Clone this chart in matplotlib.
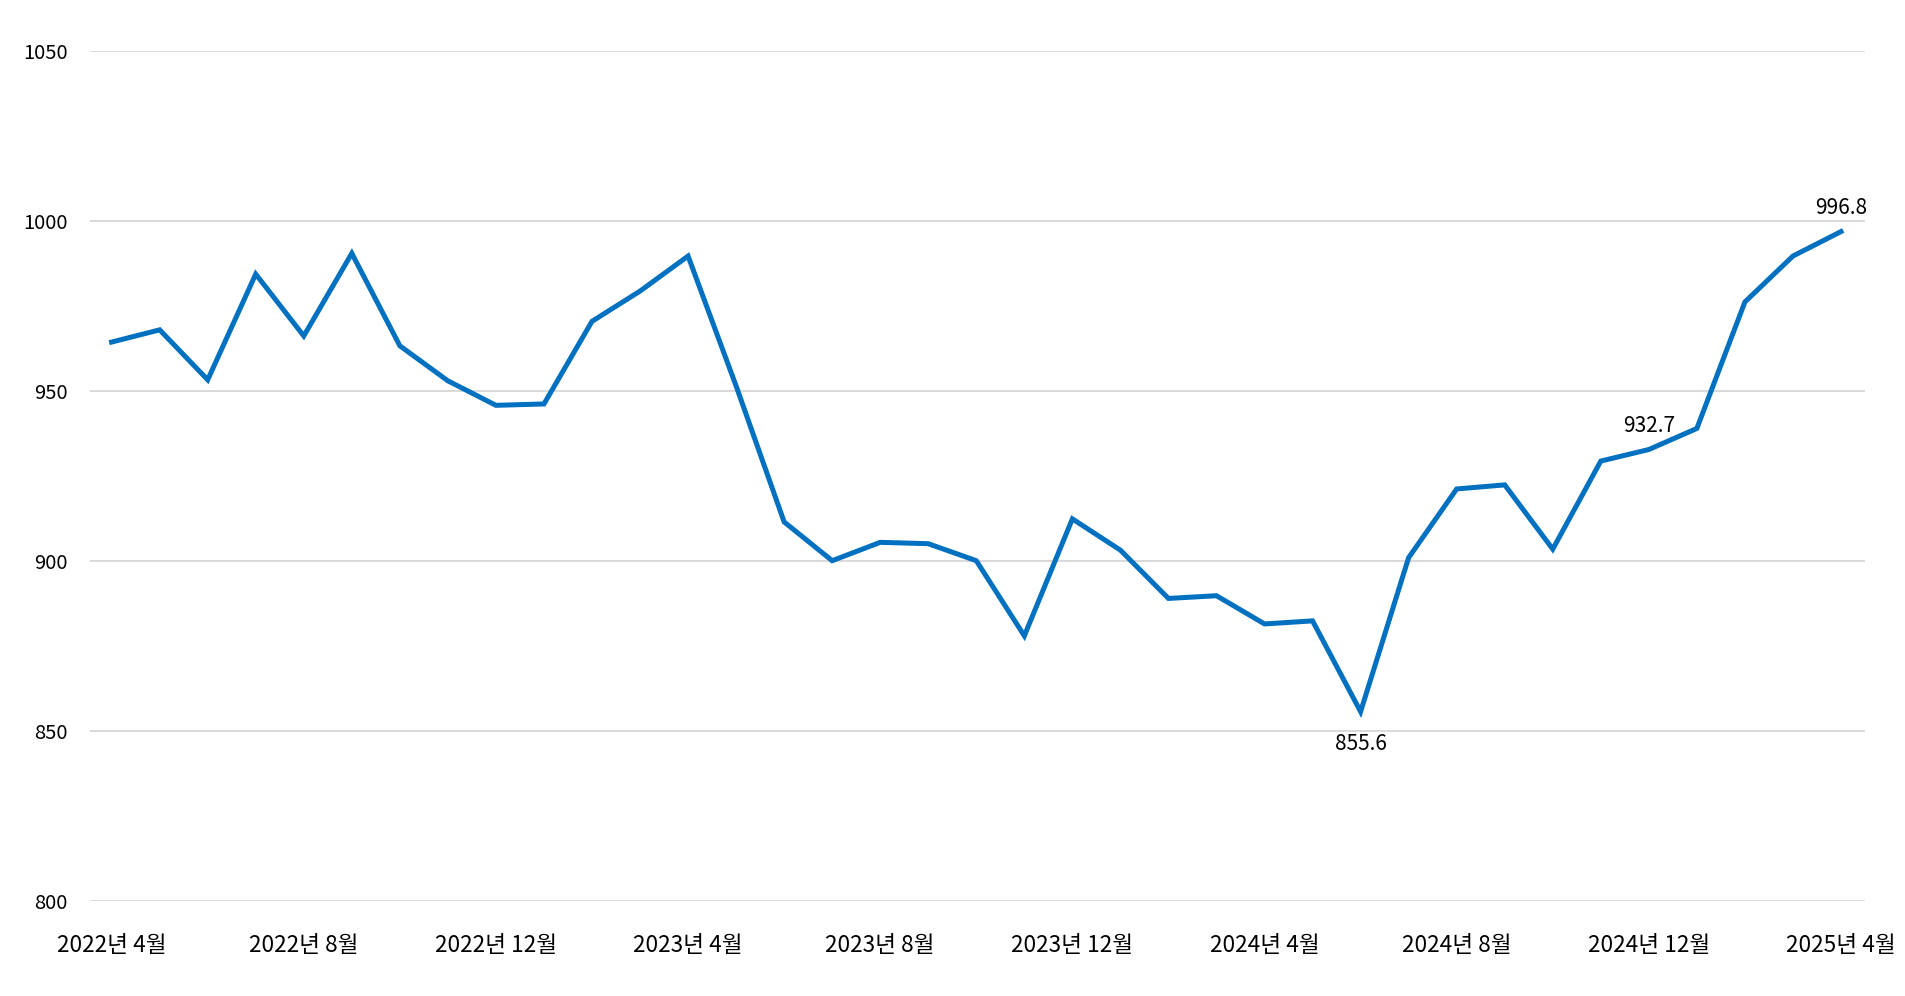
import matplotlib
matplotlib.use("Agg")
import matplotlib.pyplot as plt

# --- 월별 지수 (2022년 4월 ~ 2025년 4월) ---
values = [
    964.3, 967.9, 953.2, 984.3, 966.1, 990.4, 963.2, 952.9, 945.7, 946.1,
    970.4, 979.3, 989.6, 951.4, 911.4, 900.0, 905.4, 905.0, 900.0, 877.9,
    912.3, 903.1, 888.9, 889.7, 881.4, 882.3, 855.6, 900.9, 921.1, 922.3,
    903.4, 929.3, 932.7, 938.9, 976.1, 989.6, 996.8,
]

tick_idx = [0, 4, 8, 12, 16, 20, 24, 28, 32, 36]
tick_labels = [
    "2022년 4월", "2022년 8월", "2022년 12월", "2023년 4월", "2023년 8월",
    "2023년 12월", "2024년 4월", "2024년 8월", "2024년 12월", "2025년 4월",
]

y_ticks = [800, 850, 900, 950, 1000, 1050]

# 값 표시할 지점 (인덱스, 위/아래 오프셋 pt)
label_points = [(26, -27.5), (32, 12.6), (36, 12.7)]

plt.rcParams['font.family'] = ['Noto Sans CJK KR', 'DejaVu Sans']

fig = plt.figure(figsize=(19.05, 9.96), dpi=100)
ax = fig.add_axes([90 / 1905, 1 - 900.7 / 996, (1865 - 90) / 1905, (900.7 - 50.7) / 996])

x = list(range(len(values)))
ax.plot(x, values, color="#0070C0", linewidth=3.6, solid_joinstyle="miter", zorder=3)

for i, dy in label_points:
    ax.annotate(f"{values[i]:.1f}", (i, values[i]), xytext=(0, dy),
                textcoords="offset points", ha="center", va="baseline",
                fontsize=15, color="black")

ax.set_xlim(-0.45, 36.5)
ax.set_ylim(800, 1050)
ax.set_yticks(y_ticks)
ax.set_yticklabels([str(v) for v in y_ticks], fontsize=14.5)
ax.set_xticks(tick_idx)
ax.set_xticklabels(tick_labels, fontsize=16.3)
ax.tick_params(axis='y', length=0, pad=16)
ax.tick_params(axis='x', length=0, pad=24)

ax.grid(True, axis='y', color="#D9D9D9", linewidth=1.4, zorder=0)
ax.set_axisbelow(True)
for s in ax.spines.values():
    s.set_visible(False)

fig.savefig("out.png", dpi=100, facecolor="white")
